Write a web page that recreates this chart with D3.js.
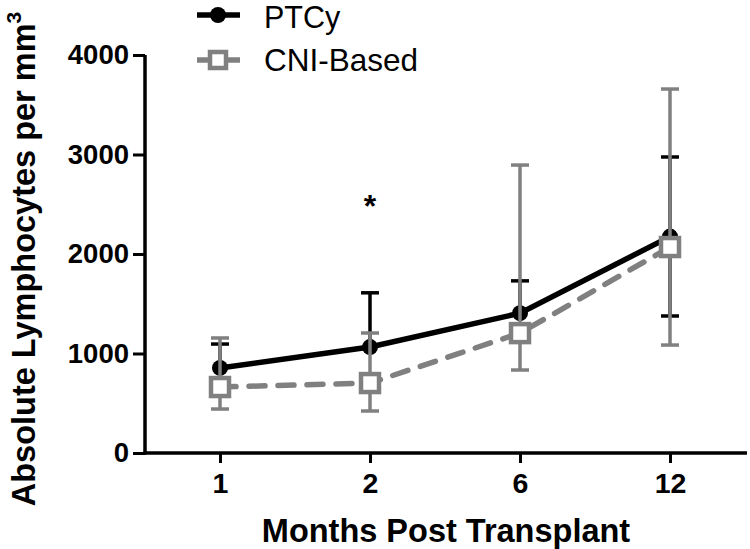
<!DOCTYPE html>
<html><head><meta charset="utf-8">
<script src="https://cdn.jsdelivr.net/npm/d3@7"></script>
<style>body{margin:0;background:#fff}svg{display:block}text{font-family:"Liberation Sans",Arial,sans-serif}</style>
</head><body><svg id="c" width="750" height="549"></svg>
<script>
const months = ["1","2","6","12"];
const ptcyMean  = [855, 1065, 1405, 2175];
const ptcyUpper = [1095, 1610, 1730, 2975];
const ptcyLower = [null, null, null, 1377];
const cniMean   = [663, 703, 1205, 2070];
const cniUpper  = [1156, 1206, 2894, 3658];
const cniLower  = [442, 422, 834, 1085];
const yTicks = [0, 1000, 2000, 3000, 4000];
const seriesNames = ["PTCy", "CNI-Based"];

const svg = d3.select("#c");
const x = d3.scalePoint().domain(months).range([145, 745]).padding(0.5);
const y = d3.scaleLinear().domain([0, 4000]).range([453, 55]);
const GRAY = "#808080";

// axes
const yAx = svg.append("g").attr("transform","translate(145,0)")
  .call(d3.axisLeft(y).tickValues(yTicks).tickSize(12).tickSizeOuter(0).tickPadding(4).tickFormat(d3.format("d")));
yAx.select(".domain").attr("stroke","#000").attr("stroke-width",3.5).attr("d","M0,"+y(4000)+"V"+(y(0)+1.5));
yAx.selectAll(".tick line").attr("stroke","#000").attr("stroke-width",3);
yAx.selectAll(".tick text").attr("font-size",27.5).attr("font-weight","bold").attr("fill","#000");

const xAx = svg.append("g").attr("transform","translate(0,453)")
  .call(d3.axisBottom(x).tickSize(10).tickSizeOuter(0).tickPadding(10));
xAx.select(".domain").attr("stroke","#000").attr("stroke-width",3.5).attr("d","M143.5,0H747");
xAx.selectAll(".tick line").attr("stroke","#000").attr("stroke-width",3);
xAx.selectAll(".tick text").attr("font-size",28.5).attr("font-weight","bold").attr("fill","#000");

// axis titles
svg.append("text").attr("x",446).attr("y",542).attr("text-anchor","middle")
  .attr("font-size",32.5).attr("font-weight","bold").text("Months Post Transplant");
const yt = svg.append("text").attr("transform","translate(35,259) rotate(-90)").attr("text-anchor","middle")
  .attr("font-size",32.5).attr("font-weight","bold");
yt.append("tspan").text("Absolute Lymphocytes per mm");
yt.append("tspan").attr("font-size",21).attr("dy",-14).text("3");

const line = d3.line().x((d,i)=>x(months[i])).y(d=>y(d));

function errorBars(g, mean, up, lo, color){
  months.forEach((m,i)=>{
    const cx = x(m);
    if (up[i]!=null){
      g.append("line").attr("x1",cx).attr("x2",cx).attr("y1",y(mean[i])).attr("y2",y(up[i])).attr("stroke",color).attr("stroke-width",3.5);
      g.append("line").attr("x1",cx-9).attr("x2",cx+9).attr("y1",y(up[i])).attr("y2",y(up[i])).attr("stroke",color).attr("stroke-width",3.5);
    }
    if (lo[i]!=null){
      g.append("line").attr("x1",cx).attr("x2",cx).attr("y1",y(mean[i])).attr("y2",y(lo[i])).attr("stroke",color).attr("stroke-width",3.5);
      g.append("line").attr("x1",cx-9).attr("x2",cx+9).attr("y1",y(lo[i])).attr("y2",y(lo[i])).attr("stroke",color).attr("stroke-width",3.5);
    }
  });
}

// PTCy
const g1 = svg.append("g");
g1.append("path").attr("d",line(ptcyMean)).attr("fill","none").attr("stroke","#000").attr("stroke-width",5.5);
errorBars(g1, ptcyMean, ptcyUpper, ptcyLower, "#000");
g1.selectAll("circle").data(ptcyMean).join("circle")
  .attr("cx",(d,i)=>x(months[i])).attr("cy",d=>y(d)).attr("r",8).attr("fill","#000");

// CNI
const g2 = svg.append("g");
g2.append("path").attr("d",line(cniMean)).attr("fill","none").attr("stroke",GRAY).attr("stroke-width",5.5)
  .attr("stroke-dasharray","16,13").attr("stroke-linecap","round");
errorBars(g2, cniMean, cniUpper, cniLower, GRAY);
g2.selectAll("rect").data(cniMean).join("rect")
  .attr("x",(d,i)=>x(months[i])-9).attr("y",d=>y(d)-9).attr("width",18).attr("height",18)
  .attr("fill","#fff").attr("stroke",GRAY).attr("stroke-width",4.5);

// significance star
svg.append("text").attr("x",x("2")).attr("y",217).attr("text-anchor","middle")
  .attr("font-size",32).attr("font-weight","bold").text("*");

// legend
const lg = svg.append("g");
lg.append("line").attr("x1",197).attr("x2",240).attr("y1",15).attr("y2",15).attr("stroke","#000").attr("stroke-width",5.5);
lg.append("circle").attr("cx",218).attr("cy",15).attr("r",8).attr("fill","#000");
lg.append("text").attr("x",264).attr("y",28).attr("font-size",30.5).text(seriesNames[0]);
lg.append("line").attr("x1",197).attr("x2",240).attr("y1",60).attr("y2",60).attr("stroke",GRAY).attr("stroke-width",5.5);
lg.append("rect").attr("x",210).attr("y",52).attr("width",16).attr("height",16).attr("fill","#fff").attr("stroke",GRAY).attr("stroke-width",4.5);
lg.append("text").attr("x",264).attr("y",71).attr("font-size",31.5).text(seriesNames[1]);
</script></body></html>
